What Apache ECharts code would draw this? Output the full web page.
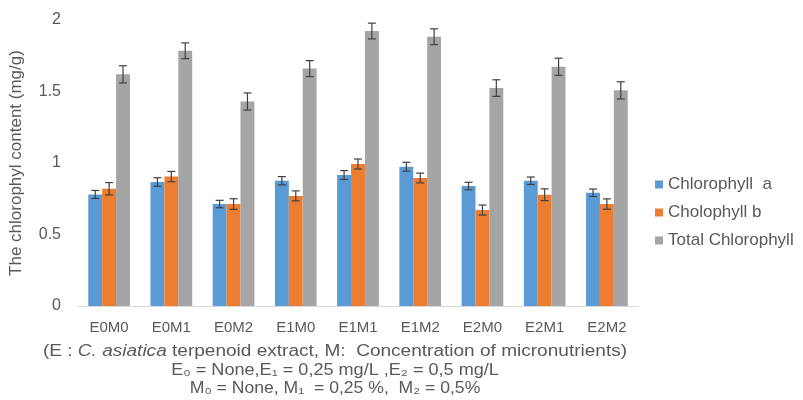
<!DOCTYPE html>
<html><head><meta charset="utf-8">
<script src="https://cdn.jsdelivr.net/npm/echarts@6/dist/echarts.min.js"></script>
<style>html,body{margin:0;padding:0;background:#fff}#c{width:803px;height:400px}</style>
</head><body><div id="c"></div>
<script>
const categories = ['E0M0','E0M1','E0M2','E1M0','E1M1','E1M2','E2M0','E2M1','E2M2'];
const seriesNames = ['Chlorophyll  a','Cholophyll b','Total Chlorophyll'];
const chlA = [0.78,0.867,0.713,0.876,0.916,0.974,0.839,0.876,0.792];
const chlB = [0.82,0.905,0.713,0.77,0.993,0.895,0.671,0.778,0.713];
const chlTotal = [1.62,1.785,1.43,1.66,1.923,1.883,1.524,1.673,1.508];
const errA = [0.028,0.03,0.026,0.029,0.031,0.031,0.026,0.026,0.026];
const errB = [0.043,0.036,0.037,0.035,0.035,0.034,0.035,0.041,0.036];
const errTotal = [0.06,0.055,0.06,0.056,0.055,0.055,0.058,0.06,0.06];
const yTicks = [0,0.5,1,1.5,2];
const captionLines = [
  '(E : {i|C. asiatica} terpenoid extract, M:  Concentration of micronutrients)',
  'E\u2080 = None,E\u2081 = 0,25 mg/L ,E\u2082 = 0,5 mg/L',
  'M\u2080 = None, M\u2081  = 0,25 %,  M\u2082 = 0,5%'
];
const colors = ['#5b9bd5','#ed7d31','#a5a5a5'];

const values = [chlA, chlB, chlTotal];
const errs = [errA, errB, errTotal];
const gapFrac = 0.33;

function errSeries(k){
  return {
    type:'custom', silent:true, z:10,
    data: values[k].map((v,i)=>[i, v-errs[k][i], v+errs[k][i]]),
    renderItem:function(params, api){
      const i = api.value(0);
      const catW = api.size([1,0])[0];
      const bw = catW*(1-gapFrac)/3;
      const lo = api.coord([i, api.value(1)]);
      const hi = api.coord([i, api.value(2)]);
      const x = lo[0] + (k-1)*bw;
      const cap = 4;
      const st = {stroke:'#404040', lineWidth:1.2};
      return {type:'group', children:[
        {type:'line', shape:{x1:x,y1:hi[1],x2:x,y2:lo[1]}, style:st},
        {type:'line', shape:{x1:x-cap,y1:hi[1],x2:x+cap,y2:hi[1]}, style:st},
        {type:'line', shape:{x1:x-cap,y1:lo[1],x2:x+cap,y2:lo[1]}, style:st}
      ]};
    }
  };
}

const chart = echarts.init(document.getElementById('c'), null, {renderer:'canvas'});
const txt = '#595959';
const ff = '"Liberation Sans", Arial, sans-serif';
const capY = [352, 371, 389];
const capScale = [1.19, 1.13, 1.1];
chart.setOption({
  animation:false,
  color: colors,
  textStyle:{fontFamily:ff},
  grid:{left:77, right:165, top:20, bottom:94, containLabel:false},
  legend:{
    orient:'vertical', left:650, top:171, itemWidth:8, itemHeight:8, itemGap:11,
    icon:'rect', data:seriesNames,
    textStyle:{color:txt, fontSize:17, fontFamily:ff}
  },
  xAxis:{
    type:'category', data:categories,
    axisLine:{lineStyle:{color:'#d9d9d9'}}, axisTick:{show:false},
    axisLabel:{color:txt, fontSize:15, margin:14}
  },
  yAxis:{
    type:'value', min:yTicks[0], max:yTicks[yTicks.length-1], interval:0.5,
    splitLine:{show:false}, axisLine:{show:false}, axisTick:{show:false},
    axisLabel:{color:txt, fontSize:16, margin:17},
    name:'The chlorophyl content (mg/g)', nameLocation:'middle', nameGap:53,
    nameTextStyle:{color:txt, fontSize:17}
  },
  series:[
    {name:seriesNames[0], type:'bar', data:chlA, barGap:'0%', barCategoryGap:(gapFrac*100)+'%'},
    {name:seriesNames[1], type:'bar', data:chlB, barGap:'0%', barCategoryGap:(gapFrac*100)+'%'},
    {name:seriesNames[2], type:'bar', data:chlTotal, barGap:'0%', barCategoryGap:(gapFrac*100)+'%'},
    errSeries(0), errSeries(1), errSeries(2)
  ],
  graphic: captionLines.map((t,j)=>({
    type:'text', x:335, y:capY[j], scaleX:capScale[j],
    style:{
      text:t, fill:txt, font:'16px '+ff, align:'center', verticalAlign:'middle',
      rich:{i:{fontStyle:'italic', fontSize:16, fontFamily:ff, fill:txt}}
    }
  }))
});
</script></body></html>
